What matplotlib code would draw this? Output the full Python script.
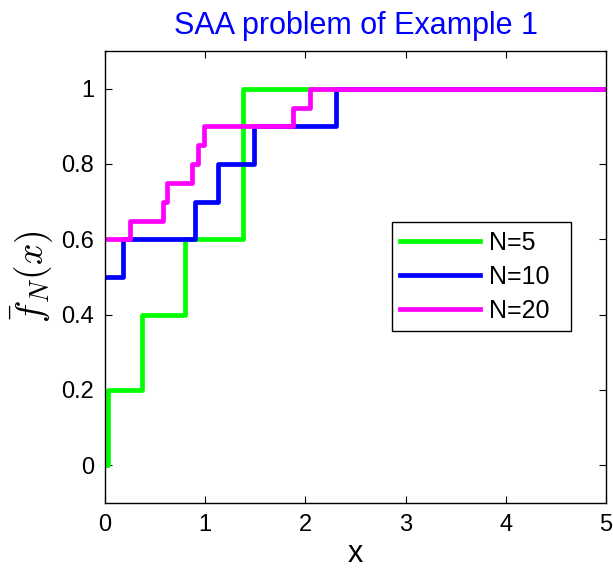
import numpy as np
import matplotlib.pyplot as plt

plt.rcParams['font.family'] = ['Liberation Sans', 'DejaVu Sans']
plt.rcParams['mathtext.fontset'] = 'cm'

# step points (x where the jump happens, value after the jump)
x5 = [0.02, 0.03, 0.37, 0.80, 1.38, 5.0]
y5 = [0.0, 0.2, 0.4, 0.6, 1.0, 1.0]

x10 = [0.0, 0.18, 0.90, 1.13, 1.49, 2.31, 5.0]
y10 = [0.5, 0.6, 0.7, 0.8, 0.9, 1.0, 1.0]

x20 = [0.0, 0.25, 0.58, 0.62, 0.87, 0.93, 0.99, 1.88, 2.05, 5.0]
y20 = [0.6, 0.65, 0.7, 0.75, 0.8, 0.85, 0.9, 0.95, 1.0, 1.0]

labels = ['N=5', 'N=10', 'N=20']
colors = ['#00ff00', '#0000ff', '#ff00ff']

fig = plt.figure(figsize=(6.13, 5.76), dpi=100)
ax = fig.add_axes([105/613, 1 - 503/576, 501/613, 452/576])

for xs, ys, lab, c in zip([x5, x10, x20], [y5, y10, y20], labels, colors):
    ax.plot(xs, ys, drawstyle='steps-post', color=c, linewidth=3.4, label=lab)

ax.set_xlim(0, 5)
ax.set_ylim(-0.1, 1.1)
ax.set_xticks([0, 1, 2, 3, 4, 5])
ax.set_yticks([0, 0.2, 0.4, 0.6, 0.8, 1])
ax.set_yticklabels(['0', '0.2', '0.4', '0.6', '0.8', '1'])
ax.tick_params(direction='in', top=True, right=True, labelsize=17, length=5, pad=8)
for s in ax.spines.values():
    s.set_linewidth(1.0)

ax.set_xlabel('x', fontsize=22, labelpad=2)
ax.set_ylabel(r'$\bar{f}_N(x)$', fontsize=27, labelpad=4)
ax.set_title('SAA problem of Example 1', color='#0000ff', fontsize=22, pad=12)

leg = ax.legend(loc='upper left', bbox_to_anchor=(0.572, 0.622, 0.358, 0), mode='expand',
                borderaxespad=0, fontsize=18, fancybox=False, edgecolor='black', framealpha=1,
                handlelength=3.2, borderpad=0.35, labelspacing=0.4, handletextpad=0.35)
leg.get_frame().set_linewidth(1.0)

fig.savefig('out.png', dpi=100)
